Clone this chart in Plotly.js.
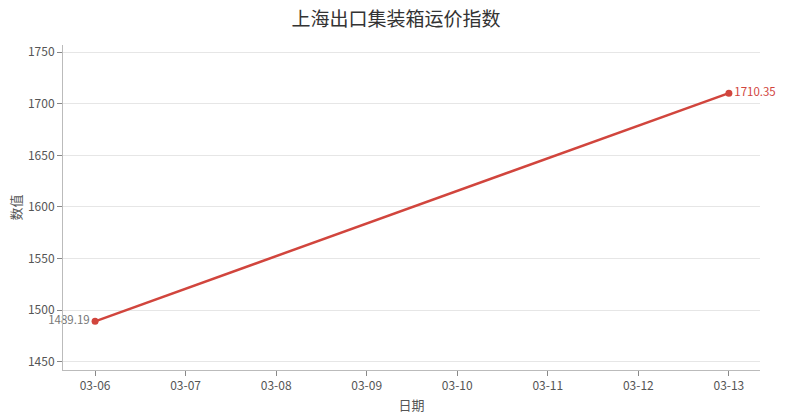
<!DOCTYPE html>
<html>
<head>
<meta charset="utf-8">
<script src="https://cdn.plot.ly/plotly-3.0.1.min.js"></script>
<style>
html, body { margin: 0; padding: 0; background: #fff; }
#chart { width: 792px; height: 420px; }
</style>
</head>
<body>
<div id="chart"></div>
<script>
// 上海出口集装箱运价指数
var dates = ['2025-03-06', '2025-03-13'];
var values = [1489.19, 1710.35];
var labels = ['1489.19', '1710.35'];

var lineColor = '#d1453d';
var font = 'Noto Sans CJK SC, sans-serif';

var trace = {
    x: dates,
    y: values,
    mode: 'lines+markers+text',
    cliponaxis: false,
    line: { color: lineColor, width: 2.5 },
    marker: { color: lineColor, size: 7 },
    text: labels,
    textposition: ['middle left', 'middle right'],
    textfont: { family: font, size: 11.5, color: ['#777777', lineColor] },
    hoverinfo: 'x+y',
    showlegend: false
};

var layout = {
    width: 792,
    height: 420,
    margin: { l: 63, r: 32, t: 45, b: 50 },
    paper_bgcolor: '#ffffff',
    plot_bgcolor: '#ffffff',
    font: { family: font, size: 12, color: '#555555' },
    title: {
        text: '上海出口集装箱运价指数',
        x: 0.5,
        y: 0.97,
        font: { family: font, size: 19, color: '#333333' }
    },
    xaxis: {
        type: 'date',
        range: ['2025-03-05 15:30', '2025-03-13 08:15'],
        dtick: 86400000,
        tick0: '2025-03-06',
        tickformat: '%m-%d',
        showgrid: false,
        showline: true,
        linecolor: '#bbbbbb',
        linewidth: 1,
        ticks: 'outside',
        ticklen: 5,
        tickcolor: '#888888',
        tickfont: { family: font, size: 12, color: '#555555' },
        zeroline: false,
        title: { text: '日期', font: { family: font, size: 13, color: '#555555' }, standoff: 8 }
    },
    yaxis: {
        range: [1442, 1757],
        dtick: 50,
        showgrid: true,
        gridcolor: '#e6e6e6',
        showline: true,
        linecolor: '#bbbbbb',
        linewidth: 1,
        ticks: 'outside',
        ticklen: 5,
        tickcolor: '#888888',
        tickfont: { family: font, size: 12, color: '#555555' },
        zeroline: false,
        title: { text: '数值', font: { family: font, size: 13, color: '#555555' }, standoff: 3 }
    }
};

Plotly.newPlot('chart', [trace], layout, { displayModeBar: false, staticPlot: true });
</script>
</body>
</html>
